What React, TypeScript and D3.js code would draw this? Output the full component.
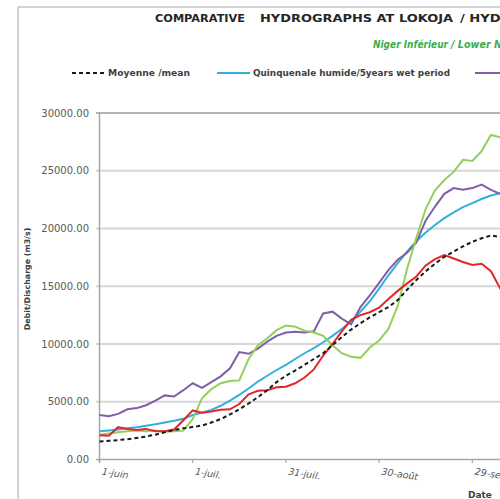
import React from 'react';
import * as d3 from 'd3';

const days = [0, 3, 6, 9, 12, 15, 18, 21, 24, 27, 30, 33, 36, 39, 42, 45, 48, 51, 54, 57, 60, 63, 66, 69, 72, 75, 78, 81, 84, 87, 90, 93, 96, 99, 102, 105, 108, 111, 114, 117, 120, 123, 126, 129, 132];

const meanValues = [1560, 1620, 1680, 1760, 1870, 1990, 2150, 2350, 2560, 2700, 2820, 2940, 3200, 3500, 3900, 4350, 4850, 5400, 6000, 6700, 7250, 7700, 8200, 8700, 9200, 9900, 10600, 11250, 11800, 12300, 12750, 13200, 13800, 14700, 15550, 16300, 16950, 17550, 18000, 18450, 18850, 19150, 19400, 19250, 18800];

const wetValues = [2450, 2520, 2600, 2700, 2800, 2920, 3050, 3200, 3350, 3520, 3850, 4050, 4300, 4650, 5100, 5600, 6150, 6750, 7250, 7750, 8200, 8700, 9200, 9650, 10150, 10700, 11300, 12000, 12800, 13700, 14800, 15950, 17000, 18000, 18900, 19650, 20300, 20900, 21400, 21850, 22200, 22550, 22850, 23050, 23150];

const purpleValues = [3850, 3750, 3950, 4350, 4450, 4700, 5100, 5550, 5450, 6000, 6600, 6200, 6700, 7200, 7900, 9300, 9150, 9600, 10200, 10700, 11000, 11050, 11000, 11100, 12650, 12800, 12200, 11700, 13200, 14200, 15300, 16400, 17300, 17900, 18800, 20700, 21900, 23000, 23500, 23350, 23500, 23800, 23350, 23000, 22800];

const greenValues = [2150, 2250, 2350, 2450, 2500, 2450, 2500, 2400, 2450, 2500, 3500, 5300, 6100, 6600, 6800, 6850, 8700, 9900, 10500, 11200, 11600, 11500, 11150, 11000, 10700, 9900, 9200, 8900, 8800, 9700, 10300, 11300, 13300, 16500, 19200, 21700, 23300, 24200, 24900, 25950, 25850, 26700, 28100, 27900, 27500];

const redValues = [2100, 2050, 2800, 2650, 2550, 2650, 2450, 2450, 2600, 3400, 4250, 4050, 4150, 4300, 4350, 4800, 5650, 5950, 6000, 6250, 6300, 6600, 7100, 7800, 9000, 10000, 11100, 12100, 12500, 12750, 13150, 13900, 14600, 15250, 15850, 16800, 17350, 17700, 17400, 17100, 16850, 16950, 16300, 14800, 13800];

const yTicks = [0, 5000, 10000, 15000, 20000, 25000, 30000];
const xTickDays = [0, 30, 60, 90, 120];
const xTickLabels = ['1-juin', '1-juil.', '31-juil.', '30-août', '29-sept.'];

export default function App() {
  const x = d3.scaleLinear().domain([0, 120]).range([99.5, 472.3]);
  const y = d3.scaleLinear().domain([0, 30000]).range([459.5, 113]);
  const mk = (vals: number[]) =>
    d3.line<number>().x((_, i) => x(days[i])).y((v) => y(v))(vals) || '';

  const font = 'DejaVu Sans, Verdana, sans-serif';

  return (
    <svg
      width={500}
      height={499}
      style={{ position: 'absolute', left: 0, top: 0, background: '#fff' }}
    >
      <rect x={0} y={0} width={500} height={499} fill="#fff" />
      {/* outer chart border */}
      <line x1={18} y1={7} x2={500} y2={7} stroke="#c4c4c4" strokeWidth={1.5} />
      <line x1={18} y1={7} x2={18} y2={499} stroke="#c4c4c4" strokeWidth={1.5} />

      {/* title */}
      <text x={155} y={22} fontFamily={font} fontWeight="bold" fontSize={10} fill="#262626" textLength={90} lengthAdjust="spacingAndGlyphs">COMPARATIVE</text>
      <text x={260} y={22} fontFamily={font} fontWeight="bold" fontSize={10} fill="#262626" textLength={193} lengthAdjust="spacingAndGlyphs">HYDROGRAPHS AT LOKOJA</text>
      <text x={460} y={22} fontFamily={font} fontWeight="bold" fontSize={10} fill="#262626" textLength={62} lengthAdjust="spacingAndGlyphs">/ HYDRO</text>

      {/* subtitle */}
      <text x={373} y={48} fontFamily={font} fontWeight="bold" fontStyle="italic" fontSize={9.6} fill="#3aad4e" textLength={75} lengthAdjust="spacingAndGlyphs">Niger Inférieur</text>
      <text x={451} y={48} fontFamily={font} fontWeight="bold" fontStyle="italic" fontSize={9.6} fill="#3aad4e">/ Lower Niger</text>

      {/* legend */}
      <line x1={72} y1={73} x2={107} y2={73} stroke="#1a1a1a" strokeWidth={2} strokeDasharray="4,3" />
      <text x={108} y={76} fontFamily={font} fontWeight="bold" fontSize={8.2} fill="#404040" textLength={82} lengthAdjust="spacingAndGlyphs">Moyenne /mean</text>
      <line x1={217} y1={73} x2={250} y2={73} stroke="#31b0dd" strokeWidth={2} />
      <text x={253} y={76} fontFamily={font} fontWeight="bold" fontSize={8.2} fill="#404040" textLength={197} lengthAdjust="spacingAndGlyphs">Quinquenale humide/5years wet period</text>
      <line x1={475} y1={73} x2={510} y2={73} stroke="#7f5fa8" strokeWidth={2} />

      {/* gridlines */}
      {yTicks.map((t) => (
        <line
          key={'g' + t}
          x1={96}
          x2={500}
          y1={y(t)}
          y2={y(t)}
          stroke={t === 30000 ? '#b5b5b5' : t === 0 ? '#a6a6a6' : '#d6d6d6'}
          strokeWidth={t === 0 ? 1.5 : 2}
        />
      ))}
      {/* y axis */}
      <line x1={99.5} x2={99.5} y1={y(30000)} y2={y(0) + 3} stroke="#a6a6a6" strokeWidth={1.5} />
      {yTicks.map((t) => (
        <text
          key={'yl' + t}
          x={89}
          y={y(t)}
          dy="0.35em"
          textAnchor="end"
          fontFamily={font}
          fontSize={10}
          fill="#595959"
        >
          {t.toFixed(2)}
        </text>
      ))}
      {/* x ticks */}
      {xTickDays.map((d, i) => (
        <g key={'xt' + d}>
          <line x1={x(d)} x2={x(d)} y1={y(0)} y2={y(0) + 3.5} stroke="#a6a6a6" strokeWidth={1.2} />
          <text
            transform={`translate(${x(d) + 2},${y(0) + 15}) rotate(9)`}
            fontFamily={font}
            fontStyle="italic"
            fontSize={9.5}
            fill="#595959"
          >
            {xTickLabels[i]}
          </text>
        </g>
      ))}

      {/* series */}
      <path d={mk(wetValues)} fill="none" stroke="#31b0dd" strokeWidth={2} />
      <path d={mk(purpleValues)} fill="none" stroke="#7f5fa8" strokeWidth={2} />
      <path d={mk(greenValues)} fill="none" stroke="#93cf5b" strokeWidth={2} />
      <path d={mk(redValues)} fill="none" stroke="#e3262b" strokeWidth={2} />
      <path d={mk(meanValues)} fill="none" stroke="#1a1a1a" strokeWidth={2} strokeDasharray="4,3" />

      {/* axis titles */}
      <text
        transform="translate(27,279) rotate(-90)"
        textAnchor="middle"
        dy="0.35em"
        fontFamily={font}
        fontWeight="bold"
        fontSize={7.9}
        fill="#404040"
      >
        Debit/Discharge (m3/s)
      </text>
      <text x={468} y={498} fontFamily={font} fontWeight="bold" fontSize={9} fill="#404040">Date</text>
    </svg>
  );
}
